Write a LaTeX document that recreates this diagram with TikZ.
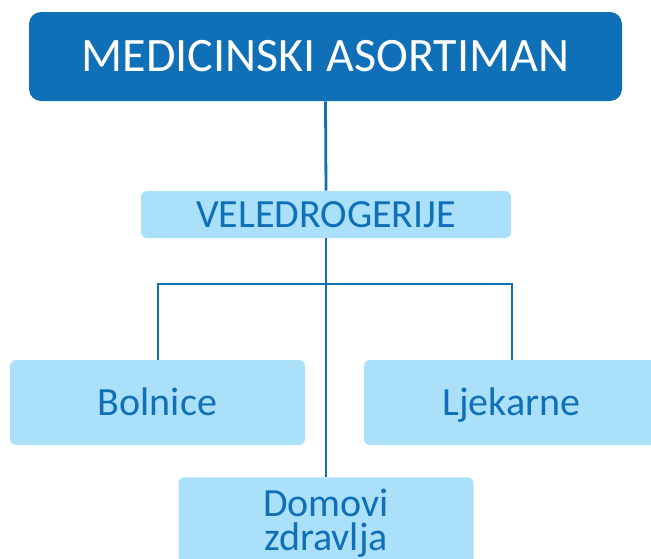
\documentclass[tikz,border=0pt]{standalone}
\usepackage{fontspec}
\setmainfont{Carlito}
\usepackage{tikz}
\definecolor{tamnoplava}{HTML}{0F70B7}
\definecolor{svijetloplava}{HTML}{ABE0FA}

\begin{document}
\begin{tikzpicture}[x=0.75pt,y=-0.75pt,
        glavni/.style={fill=tamnoplava,text=white,rounded corners=9pt,font=\fontsize{36}{40}\selectfont,
            minimum width=593*0.75pt,minimum height=89*0.75pt},
        kutija/.style={fill=svijetloplava,text=tamnoplava,rounded corners=4.5pt,font=\fontsize{30}{25.5}\selectfont,
            minimum width=295*0.75pt,minimum height=85*0.75pt,align=center},
        red/.style={text height=24pt,text depth=5pt},
        deblja/.style={draw=tamnoplava,line width=2.1pt},
        tanja/.style={draw=tamnoplava,line width=1.5pt}]
        \useasboundingbox (0,0) rectangle (651,558);
        \node[glavni] (top) at (325.5,56.5) {MEDICINSKI ASORTIMAN};
        \node[kutija,minimum width=370*0.75pt,minimum height=47*0.75pt] (vel) at (326,214.5) {VELEDROGERIJE};
        \node[kutija,red] (bol) at (157.5,402.5) {Bolnice};
        \node[kutija,red] (ljek) at (511.5,402.5) {Ljekarne};
        \node[kutija,anchor=north,minimum height=92*0.75pt] (dom) at (326,477) {Domovi\\zdravlja};
        \coordinate (racva) at (326,284);
        \draw[deblja] (top.south) -- (vel.north);
        \draw[deblja] (vel.south) -- (dom.north);
        \draw[tanja] (bol.north) |- (racva) -| (ljek.north);
    \end{tikzpicture}
\end{document}
